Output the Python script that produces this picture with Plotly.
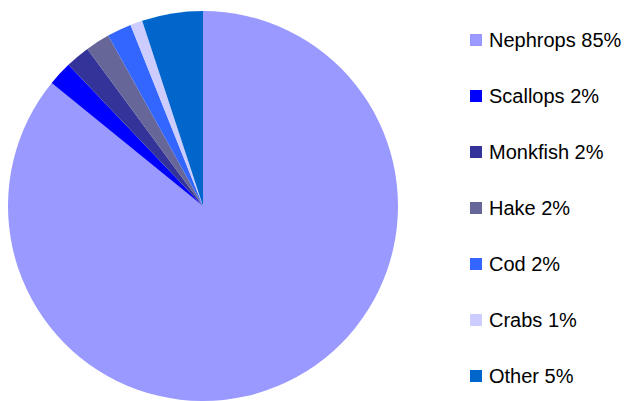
import plotly.graph_objects as go

W, H = 630, 401

# Landings share by species (percent)
species = ["Nephrops", "Scallops", "Monkfish", "Hake", "Cod", "Crabs", "Other"]
share = [85, 2, 2, 2, 2, 1, 5]
colours = ["#9999FF", "#0000FF", "#333399", "#666699", "#3366FF", "#CCCCFF", "#0066CC"]

labels = [f"{s} {v}%" for s, v in zip(species, share)]

# pie geometry in pixels (centre and radius)
cx, cy, r = 203, 206, 195

fig = go.Figure(
    go.Pie(
        labels=labels,
        values=share,
        marker=dict(colors=colours, line=dict(width=0)),
        sort=False,
        direction="clockwise",
        rotation=0,
        textinfo="none",
        hoverinfo="label",
        showlegend=False,
        domain=dict(
            x=[(cx - r) / W, (cx + r) / W],
            y=[(H - cy - r) / H, (H - cy + r) / H],
        ),
    )
)

# legend drawn as squares + text, one row per slice
row0, step = 40, 56
sq = 12
shapes, annotations = [], []
for i, (lab, col) in enumerate(zip(labels, colours)):
    yc = row0 + i * step
    shapes.append(
        dict(
            type="rect",
            xref="paper", yref="paper",
            x0=470 / W, x1=(470 + sq) / W,
            y0=(H - yc - sq / 2) / H, y1=(H - yc + sq / 2) / H,
            fillcolor=col, line=dict(width=0),
        )
    )
    annotations.append(
        dict(
            text=lab,
            xref="paper", yref="paper",
            x=487 / W, y=(H - yc) / H,
            xanchor="left", yanchor="middle",
            showarrow=False,
            font=dict(family="Arial", size=20, color="#000000"),
        )
    )

fig.update_layout(
    width=W,
    height=H,
    margin=dict(l=0, r=0, t=0, b=0),
    paper_bgcolor="white",
    plot_bgcolor="white",
    shapes=shapes,
    annotations=annotations,
)

fig.write_html("out.html")
